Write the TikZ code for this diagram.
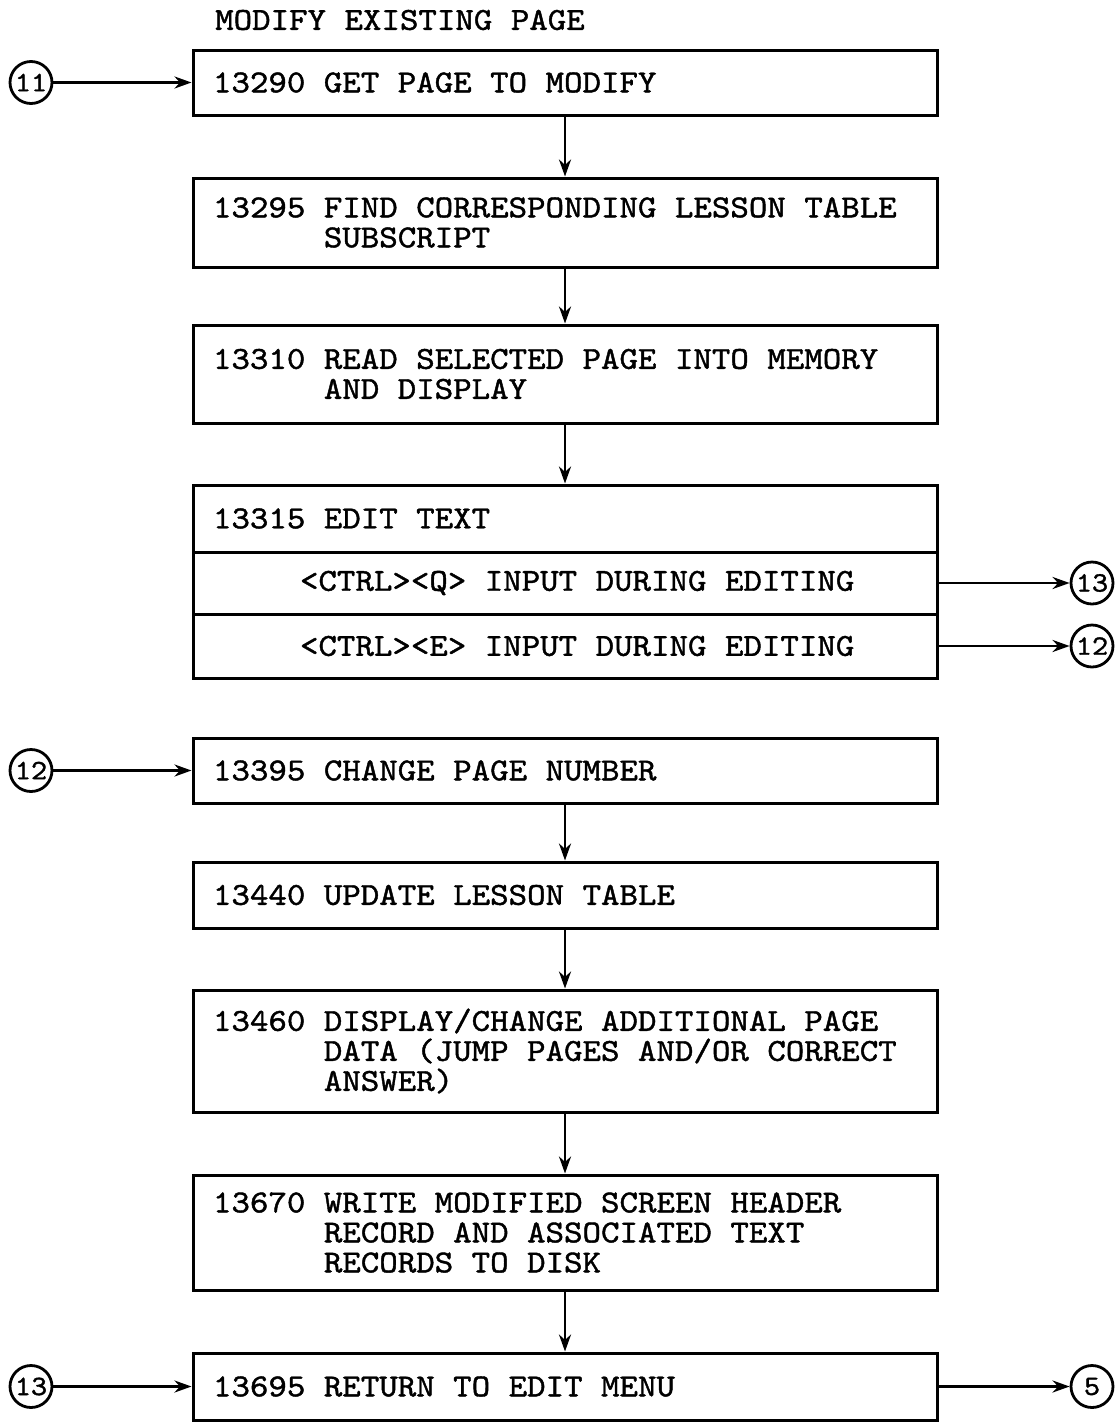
\documentclass[tikz,border=0pt]{standalone}
\usepackage{fontspec}
\setmonofont{lmmono10-regular.otf}[FakeStretch=1.1, FakeBold=1.3]
\usetikzlibrary{arrows.meta}
\tikzset{
  stepbox/.style={draw, line width=3pt, minimum width=744pt, text width=704pt,
    inner xsep=20pt, inner ysep=0pt, align=left,
    font=\ttfamily\fontsize{32}{30}\selectfont,
    execute at begin node={\spaceskip=\fontdimen2\font\relax}},
  conn/.style={draw, circle, line width=2.8pt, minimum size=42pt, inner sep=0pt,
    font=\ttfamily\fontsize{28}{28}\selectfont},
  flow/.style={-{Stealth[length=17pt,width=12pt]}, line width=2.8pt}
}
\newcommand{\hang}{\phantom{13295 }}
\begin{document}
\begin{tikzpicture}[x=1pt, y=-1pt]
      \useasboundingbox (0,0) rectangle (1115,1425);
      \draw
        (215,20) node[anchor=west, inner sep=0pt, font=\ttfamily\fontsize{32}{30}\selectfont] (title){MODIFY EXISTING PAGE}
        (565,82.5) node[stepbox, minimum height=65pt] (13290){13290 GET PAGE TO MODIFY}
        (565,222.5) node[stepbox, minimum height=89pt] (13295){13295 FIND CORRESPONDING LESSON TABLE\\\hang SUBSCRIPT}
        (565,374) node[stepbox, minimum height=98pt] (13310){13310 READ SELECTED PAGE INTO MEMORY\\\hang AND DISPLAY}
        (565,518.5) node[stepbox, minimum height=67pt] (13315){13315 EDIT TEXT}
        (565,583) node[stepbox, minimum height=62pt] (ctrlq){\hspace*{87pt}<CTRL><Q> INPUT DURING EDITING}
        (565,646) node[stepbox, minimum height=64pt] (ctrle){\hspace*{87pt}<CTRL><E> INPUT DURING EDITING}
        (565,770.5) node[stepbox, minimum height=65pt] (13395){13395 CHANGE PAGE NUMBER}
        (565,895) node[stepbox, minimum height=66pt] (13440){13440 UPDATE LESSON TABLE}
        (565,1051) node[stepbox, minimum height=122pt] (13460){13460 DISPLAY/CHANGE ADDITIONAL PAGE\\\hang DATA (JUMP PAGES AND/OR CORRECT\\\hang ANSWER)}
        (565,1232.5) node[stepbox, minimum height=115pt] (13670){13670 WRITE MODIFIED SCREEN HEADER\\\hang RECORD AND ASSOCIATED TEXT\\\hang RECORDS TO DISK}
        (565,1386.5) node[stepbox, minimum height=67pt] (13695){13695 RETURN TO EDIT MENU}
        (31,82.5) node[conn] (in11){11}
        (1092,583) node[conn] (out13){13}
        (1092,646) node[conn] (out12){12}
        (31,770.5) node[conn] (in12){12}
        (31,1386.5) node[conn] (in13){13}
        (1092,1386.5) node[conn] (out5){5};
      \begin{scope}[flow]
        \draw (in11) to (13290);
        \draw (13290) to (13295);
        \draw (13295) to (13310);
        \draw (13310) to (13315);
        \draw (ctrlq) to (out13);
        \draw (ctrle) to (out12);
        \draw (in12) to (13395);
        \draw (13395) to (13440);
        \draw (13440) to (13460);
        \draw (13460) to (13670);
        \draw (13670) to (13695);
        \draw (in13) to (13695);
        \draw (13695) to (out5);
      \end{scope}
    \end{tikzpicture}
\end{document}
